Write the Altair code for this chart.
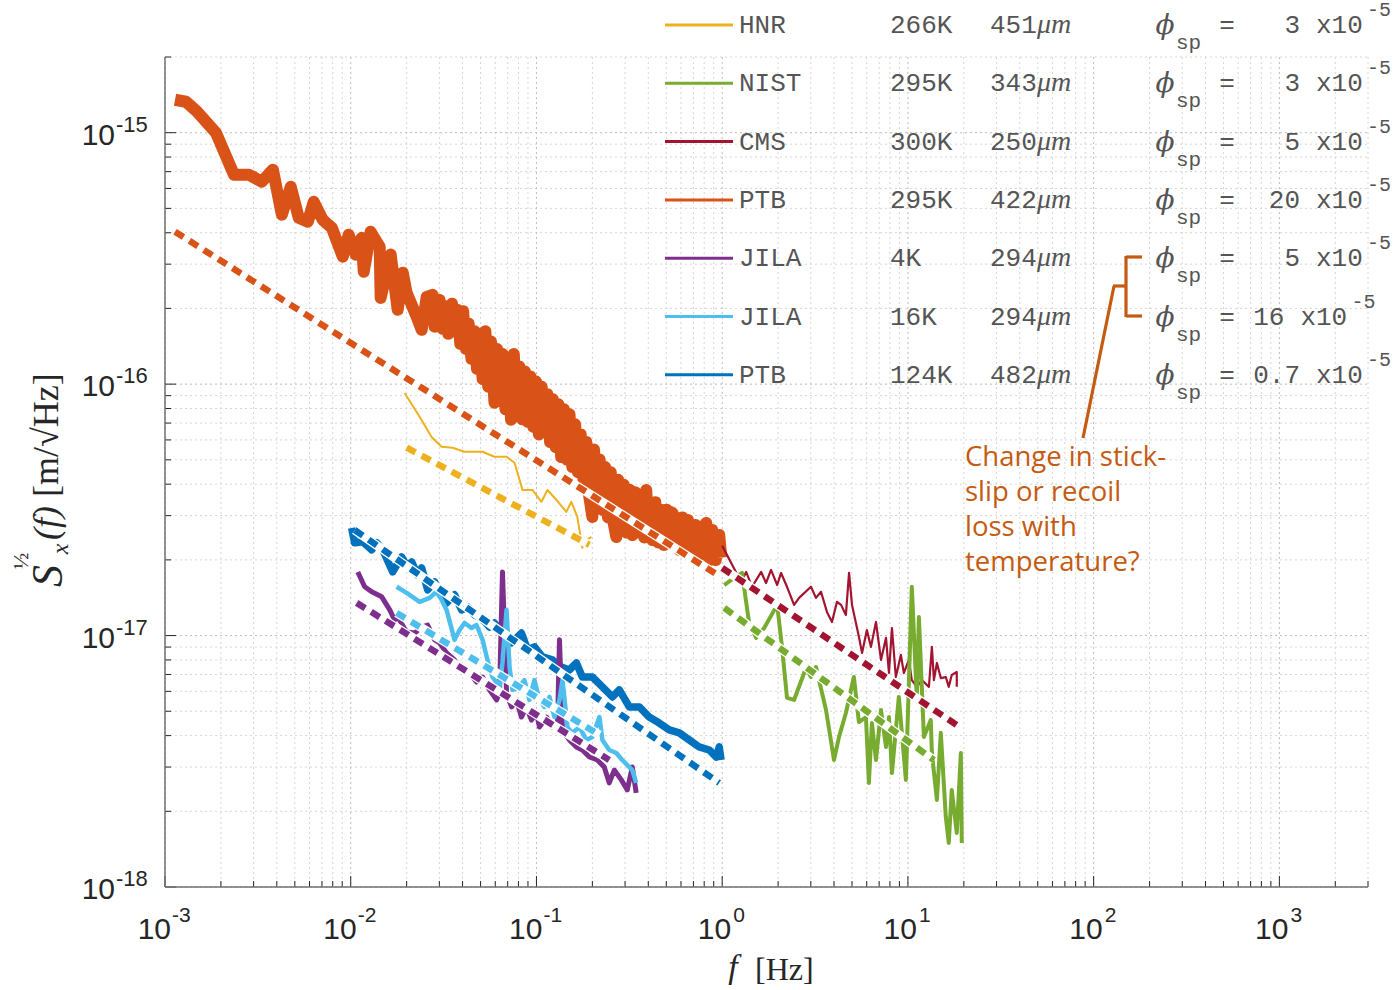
import altair as alt
import pandas as pd

# ---------------- data: (log10 f [Hz], log10 S [m/sqrt(Hz)]) ----------------
PTB_295K = [(-2.946,-14.869),(-2.887,-14.877),(-2.828,-14.916),(-2.726,-15.000),(-2.629,-15.167),(-2.548,-15.167),
            (-2.479,-15.195),(-2.419,-15.147),(-2.371,-15.326),(-2.323,-15.215),(-2.280,-15.338),(-2.231,-15.354),
            (-2.199,-15.275),(-2.151,-15.346),(-2.102,-15.378),(-2.043,-15.493),(-2.011,-15.406),(-1.973,-15.485),
            (-1.941,-15.418),(-1.930,-15.553),(-1.893,-15.394),(-1.844,-15.454),(-1.839,-15.657),(-1.785,-15.485),
            (-1.747,-15.704),(-1.720,-15.557),(-1.699,-15.637),(-1.645,-15.732),(-1.618,-15.784),(-1.591,-15.653),
            (-1.559,-15.645),(-1.548,-15.772),
            (-1.522,-15.665),(-1.505,-15.780),(-1.490,-15.690),(-1.475,-15.800),(-1.455,-15.680),(-1.440,-15.760),
            (-1.425,-15.705),(-1.410,-15.840),(-1.395,-15.710),(-1.380,-15.860),(-1.365,-15.760),(-1.350,-15.900),
            (-1.335,-15.790),(-1.320,-15.940),(-1.305,-15.800),(-1.290,-15.980),(-1.275,-15.790),(-1.260,-16.010),
            (-1.245,-15.830),(-1.226,-16.074),(-1.212,-15.860),(-1.197,-16.060),(-1.182,-15.880),(-1.167,-16.100),
            (-1.152,-15.900),(-1.137,-16.142),(-1.122,-15.880),(-1.107,-16.110),(-1.092,-15.930),(-1.077,-16.140),
            (-1.062,-15.950),(-1.047,-16.150),(-1.032,-15.970),(-1.017,-16.170),(-1.002,-15.990),(-0.987,-16.200),
            (-0.972,-16.010),(-0.957,-16.190),(-0.942,-16.040),(-0.927,-16.230),(-0.912,-16.060),(-0.897,-16.250),
            (-0.882,-16.080),(-0.867,-16.290),(-0.852,-16.100),(-0.837,-16.300),(-0.822,-16.120),(-0.807,-16.330),
            (-0.792,-16.160),(-0.777,-16.350),(-0.762,-16.200),(-0.747,-16.380),(-0.732,-16.230),(-0.717,-16.440),
            (-0.699,-16.528),(-0.690,-16.260),(-0.675,-16.480),(-0.660,-16.300),(-0.645,-16.500),(-0.630,-16.330),
            (-0.615,-16.530),(-0.600,-16.350),(-0.585,-16.550),(-0.570,-16.608),(-0.560,-16.380),(-0.545,-16.570),
            (-0.530,-16.400),(-0.515,-16.590),(-0.500,-16.420),(-0.485,-16.600),(-0.470,-16.430),(-0.455,-16.590),
            (-0.440,-16.440),(-0.420,-16.610),(-0.409,-16.421),(-0.395,-16.600),(-0.376,-16.620),(-0.360,-16.470),
            (-0.345,-16.630),(-0.330,-16.500),(-0.315,-16.640),(-0.300,-16.500),(-0.285,-16.630),(-0.270,-16.510),
            (-0.247,-16.540),(-0.230,-16.660),(-0.215,-16.530),(-0.200,-16.660),(-0.185,-16.540),(-0.161,-16.660),
            (-0.145,-16.560),(-0.124,-16.680),(-0.105,-16.570),(-0.086,-16.552),(-0.070,-16.700),(-0.054,-16.580),
            (-0.035,-16.700),(-0.016,-16.600),(-0.005,-16.690)]

HNR_266K = [(-1.710,-16.035),(-1.629,-16.130),(-1.565,-16.210),(-1.511,-16.249),(-1.452,-16.253),(-1.387,-16.269),
            (-1.290,-16.269),(-1.226,-16.289),(-1.161,-16.289),(-1.118,-16.313),(-1.075,-16.421),(-1.022,-16.421),
            (-0.973,-16.468),(-0.941,-16.421),(-0.893,-16.460),(-0.839,-16.508),(-0.812,-16.468),(-0.780,-16.528),
            (-0.753,-16.651),(-0.731,-16.619),(-0.704,-16.608)]

CMS_300K = [(0.000,-16.643),(0.102,-16.787),(0.129,-16.747),(0.161,-16.806),(0.210,-16.747),(0.236,-16.791),
            (0.263,-16.739),(0.296,-16.799),(0.317,-16.751),(0.349,-16.806),(0.387,-16.878),(0.414,-16.850),
            (0.478,-16.806),(0.505,-16.850),(0.532,-16.826),(0.564,-16.906),(0.591,-16.946),(0.618,-16.866),
            (0.640,-16.878),(0.666,-16.918),(0.683,-16.751),(0.699,-16.878),(0.736,-17.005),(0.753,-17.069),
            (0.779,-16.978),(0.801,-17.045),(0.828,-16.946),(0.855,-17.097),(0.882,-17.009),(0.898,-17.149),
            (0.914,-16.970),(0.935,-17.165),(0.962,-17.077),(0.978,-17.149),(1.005,-17.097),(1.021,-17.177),
            (1.048,-17.204),(1.075,-17.177),(1.113,-17.204),(1.129,-17.045),(1.140,-17.177),(1.156,-17.109),
            (1.177,-17.169),(1.204,-17.165),(1.220,-17.204),(1.236,-17.157),(1.263,-17.145),(1.263,-17.204)]

NIST_295K = [(0.011,-16.799),(0.064,-16.771),(0.107,-16.751),(0.145,-16.950),(0.183,-17.009),(0.226,-16.970),
             (0.296,-16.878),(0.322,-17.045),(0.349,-17.248),(0.387,-17.256),(0.451,-17.129),(0.478,-17.165),
             (0.505,-17.125),(0.559,-17.296),(0.602,-17.495),(0.629,-17.403),(0.666,-17.308),(0.709,-17.165),
             (0.736,-17.344),(0.774,-17.324),(0.790,-17.586),(0.806,-17.348),(0.828,-17.495),(0.855,-17.296),
             (0.882,-17.443),(0.898,-17.324),(0.914,-17.547),(0.951,-17.244),(0.989,-17.574),(1.021,-16.806),
             (1.048,-17.256),(1.059,-16.926),(1.086,-17.403),(1.123,-17.336),(1.129,-17.467),(1.156,-17.654),
             (1.177,-17.387),(1.204,-17.722),(1.220,-17.825),(1.236,-17.614),(1.263,-17.785),(1.285,-17.467),
             (1.290,-17.825)]

PTB_124K = [(-1.995,-16.572),(-1.979,-16.631),(-1.936,-16.627),(-1.887,-16.659),(-1.860,-16.631),(-1.828,-16.659),
            (-1.774,-16.747),(-1.726,-16.687),(-1.694,-16.727),(-1.672,-16.707),(-1.640,-16.759),(-1.618,-16.731),
            (-1.586,-16.818),(-1.548,-16.787),(-1.522,-16.830),(-1.484,-16.870),(-1.441,-16.838),(-1.403,-16.898),
            (-1.371,-16.886),(-1.333,-16.918),(-1.296,-16.930),(-1.253,-16.966),(-1.226,-16.950),(-1.183,-16.990),
            (-1.134,-17.029),(-1.081,-16.990),(-1.048,-17.057),(-1.011,-17.045),(-0.968,-17.085),(-0.914,-17.097),
            (-0.866,-17.125),(-0.823,-17.137),(-0.785,-17.109),(-0.753,-17.165),(-0.699,-17.165),(-0.645,-17.204),
            (-0.591,-17.244),(-0.554,-17.216),(-0.500,-17.284),(-0.446,-17.284),(-0.393,-17.324),(-0.339,-17.348),
            (-0.285,-17.375),(-0.231,-17.387),(-0.178,-17.415),(-0.124,-17.443),(-0.070,-17.455),(-0.032,-17.483),
            (-0.016,-17.443),(-0.006,-17.495)]

JILA_4K = [(-1.962,-16.747),(-1.925,-16.806),(-1.887,-16.826),(-1.833,-16.846),(-1.790,-16.898),(-1.764,-16.938),
           (-1.747,-16.926),(-1.699,-16.986),(-1.656,-16.990),(-1.618,-16.966),(-1.586,-16.958),(-1.548,-17.017),
           (-1.522,-17.029),(-1.484,-17.069),(-1.441,-17.097),(-1.398,-17.137),(-1.360,-17.149),(-1.323,-17.185),
           (-1.290,-17.165),(-1.253,-17.216),(-1.215,-17.256),(-1.199,-17.228),(-1.183,-16.747),(-1.161,-17.228),
           (-1.134,-17.284),(-1.108,-17.256),(-1.081,-17.324),(-1.054,-17.284),(-1.027,-17.336),(-1.000,-17.308),
           (-0.984,-17.364),(-0.946,-17.324),(-0.914,-17.364),(-0.887,-17.364),(-0.876,-17.017),(-0.860,-17.375),
           (-0.823,-17.415),(-0.785,-17.443),(-0.753,-17.455),(-0.715,-17.483),(-0.672,-17.495),(-0.635,-17.523),
           (-0.608,-17.586),(-0.581,-17.535),(-0.543,-17.574),(-0.511,-17.614),(-0.484,-17.523),(-0.463,-17.626)]

JILA_16K = [(-1.753,-16.806),(-1.699,-16.830),(-1.629,-16.866),(-1.575,-16.850),(-1.538,-16.826),(-1.511,-16.858),
            (-1.484,-16.898),(-1.441,-17.017),(-1.414,-16.978),(-1.387,-16.950),(-1.350,-16.970),(-1.323,-16.958),
            (-1.290,-17.017),(-1.264,-17.097),(-1.237,-17.165),(-1.199,-17.204),(-1.183,-17.109),(-1.161,-16.898),
            (-1.145,-17.125),(-1.129,-17.216),(-1.091,-17.204),(-1.065,-17.177),(-1.038,-17.256),(-1.011,-17.177),
            (-0.984,-17.256),(-0.957,-17.284),(-0.930,-17.244),(-0.903,-17.324),(-0.876,-17.256),(-0.860,-17.177),
            (-0.833,-17.364),(-0.807,-17.387),(-0.769,-17.364),(-0.731,-17.415),(-0.699,-17.403),(-0.661,-17.324),
            (-0.645,-17.415),(-0.608,-17.455),(-0.570,-17.467),(-0.538,-17.495),(-0.500,-17.523),(-0.484,-17.535),
            (-0.463,-17.586)]

# straight-line (power-law) fits: two end points each
FIT_PTB_295K = [(-2.946, -15.394), (-0.016, -16.763)]
FIT_HNR_266K = [(-1.699, -16.253), (-0.715, -16.639)]
FIT_CMS_300K = [(0.000, -16.731), (1.263, -17.356)]
FIT_NIST_295K = [(0.011, -16.890), (1.140, -17.495)]
FIT_PTB_124K = [(-1.979, -16.580), (-0.016, -17.586)]
FIT_JILA_4K = [(-1.968, -16.870), (-0.608, -17.495)]
FIT_JILA_16K = [(-1.753, -16.910), (-0.661, -17.395)]

# legend table
LEGEND_NAMES = ["HNR", "NIST", "CMS", "PTB", "JILA", "JILA", "PTB"]
LEGEND_TEMPS = ["266K", "295K", "300K", "295K", "4K", "16K", "124K"]
LEGEND_SIZES = ["451", "343", "250", "422", "294", "294", "482"]
LEGEND_PHI = ["3", "3", "5", "20", "5", "16", "0.7"]
LEGEND_PHI_FIELD = [3, 3, 3, 3, 3, 2, 3]   # width of the printed number field (characters)

COLORS = {"PTB_295K": "#D95319", "HNR_266K": "#EDB120", "CMS_300K": "#A2142F", "NIST_295K": "#77AC30",
          "PTB_124K": "#0072BD", "JILA_4K": "#7E2F8E", "JILA_16K": "#4DBEEE"}
LEGEND_COLORS = [COLORS["HNR_266K"], COLORS["NIST_295K"], COLORS["CMS_300K"], COLORS["PTB_295K"],
                 COLORS["JILA_4K"], COLORS["JILA_16K"], COLORS["PTB_124K"]]

X_EXPONENTS = [-3, -2, -1, 0, 1, 2, 3]
Y_EXPONENTS = [-18, -17, -16, -15]
MINOR_MULTS = [1, 2, 3, 4, 5, 6, 7, 8, 9]
X_DOMAIN = [1e-3, 3000]
Y_DOMAIN = [1e-18, 2e-15]

ANNOTATION = ["Change in stick-", "slip or recoil", "loss with", "temperature?"]

# ---------------- layout ----------------
W, H = 1203, 830
XS = alt.Scale(type="log", domain=X_DOMAIN, nice=False)
YS = alt.Scale(type="log", domain=Y_DOMAIN, nice=False)
AX_GREY = "#262626"
NOTE = "#C55A11"


def to_df(pts):
    return pd.DataFrame({"f": [10 ** a for a, _ in pts], "S": [10 ** b for _, b in pts],
                         "i": list(range(len(pts)))})


def xenc(field="f"):
    return alt.X(f"{field}:Q", scale=XS, axis=None)


def yenc(field="S"):
    return alt.Y(f"{field}:Q", scale=YS, axis=None)


layers = []

# grid
xv_minor, xv_major = [], []
for e in X_EXPONENTS:
    for m in MINOR_MULTS:
        v = m * 10.0 ** e
        if v <= X_DOMAIN[1] * 1.0001:
            (xv_major if m == 1 else xv_minor).append(v)
yv_minor, yv_major = [], []
for e in Y_EXPONENTS:
    for m in MINOR_MULTS:
        v = m * 10.0 ** e
        if v <= Y_DOMAIN[1] * 1.0001:
            (yv_major if m == 1 else yv_minor).append(v)

gx_min = pd.DataFrame({"v": xv_minor})
gx_maj = pd.DataFrame({"v": xv_major})
gy_min = pd.DataFrame({"v": yv_minor})
gy_maj = pd.DataFrame({"v": yv_major})

layers.append(alt.Chart(gx_min).mark_rule(color="#d6d6d6", strokeWidth=1, strokeDash=[2, 3])
              .encode(x=xenc("v"), y=alt.value(0), y2=alt.value(H)))
layers.append(alt.Chart(gy_min).mark_rule(color="#d6d6d6", strokeWidth=1, strokeDash=[2, 3])
              .encode(y=yenc("v"), x=alt.value(0), x2=alt.value(W)))
layers.append(alt.Chart(gx_maj).mark_rule(color="#bdbdbd", strokeWidth=1, strokeDash=[2, 3])
              .encode(x=xenc("v"), y=alt.value(0), y2=alt.value(H)))
layers.append(alt.Chart(gy_maj).mark_rule(color="#bdbdbd", strokeWidth=1, strokeDash=[2, 3])
              .encode(y=yenc("v"), x=alt.value(0), x2=alt.value(W)))

# data lines
SERIES = [("PTB_295K", PTB_295K, 12), ("HNR_266K", HNR_266K, 2), ("CMS_300K", CMS_300K, 2.2),
          ("NIST_295K", NIST_295K, 4), ("PTB_124K", PTB_124K, 7.5), ("JILA_4K", JILA_4K, 5),
          ("JILA_16K", JILA_16K, 4.5)]
for key, pts, w in SERIES:
    layers.append(alt.Chart(to_df(pts)).mark_line(color=COLORS[key], strokeWidth=w, strokeJoin="round",
                                                  clip=True)
                  .encode(x=xenc(), y=yenc(), order=alt.Order("i:Q")))

# fits (white underlay + coloured dashes)
FITS = [("PTB_295K", FIT_PTB_295K), ("HNR_266K", FIT_HNR_266K), ("CMS_300K", FIT_CMS_300K),
        ("NIST_295K", FIT_NIST_295K), ("PTB_124K", FIT_PTB_124K), ("JILA_4K", FIT_JILA_4K),
        ("JILA_16K", FIT_JILA_16K)]
for key, pts in FITS:
    d = to_df(pts)
    layers.append(alt.Chart(d).mark_line(color="white", strokeWidth=9, clip=True)
                  .encode(x=xenc(), y=yenc(), order=alt.Order("i:Q")))
    layers.append(alt.Chart(d).mark_line(color=COLORS[key], strokeWidth=6.5, strokeDash=[10, 7], clip=True)
                  .encode(x=xenc(), y=yenc(), order=alt.Order("i:Q")))

# ticks (inward) and axis lines
layers.append(alt.Chart(gx_min).mark_rule(color=AX_GREY, strokeWidth=1)
              .encode(x=xenc("v"), y=alt.value(H), y2=alt.value(H - 6)))
layers.append(alt.Chart(gx_maj).mark_rule(color=AX_GREY, strokeWidth=1)
              .encode(x=xenc("v"), y=alt.value(H), y2=alt.value(H - 11)))
layers.append(alt.Chart(gy_min).mark_rule(color=AX_GREY, strokeWidth=1)
              .encode(y=yenc("v"), x=alt.value(0), x2=alt.value(6)))
layers.append(alt.Chart(gy_maj).mark_rule(color=AX_GREY, strokeWidth=1)
              .encode(y=yenc("v"), x=alt.value(0), x2=alt.value(11)))
layers.append(alt.Chart().mark_rule(color="#707070", strokeWidth=1.5)
              .encode(x=alt.value(0), y=alt.value(0), y2=alt.value(H)))
layers.append(alt.Chart().mark_rule(color="#707070", strokeWidth=1.5)
              .encode(x=alt.value(0), x2=alt.value(W), y=alt.value(H)))

# tick labels
xl = pd.DataFrame({"v": [10.0 ** e for e in X_EXPONENTS], "b": ["10"] * len(X_EXPONENTS),
                   "e": [str(e) for e in X_EXPONENTS], "neg": [e < 0 for e in X_EXPONENTS]})
for neg, dx_b, dx_e in [(True, 6, 7), (False, 9, 11)]:
    sub = xl[xl["neg"] == neg]
    layers.append(alt.Chart(sub).mark_text(font="Liberation Sans", fontSize=30, color=AX_GREY, align="right",
                                           baseline="middle", dx=dx_b)
                  .encode(x=xenc("v"), y=alt.value(H + 43), text="b:N"))
    layers.append(alt.Chart(sub).mark_text(font="Liberation Sans", fontSize=21, color=AX_GREY, align="left",
                                           baseline="middle", dx=dx_e)
                  .encode(x=xenc("v"), y=alt.value(H + 29), text="e:N"))
yl = pd.DataFrame({"v": [10.0 ** e for e in Y_EXPONENTS], "b": ["10"] * len(Y_EXPONENTS),
                   "e": [str(e) for e in Y_EXPONENTS]})
layers.append(alt.Chart(yl).mark_text(font="Liberation Sans", fontSize=30, color=AX_GREY, align="right",
                                      baseline="middle", dy=3)
              .encode(y=yenc("v"), x=alt.value(-50), text="b:N"))
layers.append(alt.Chart(yl).mark_text(font="Liberation Sans", fontSize=22, color=AX_GREY, align="left",
                                      baseline="middle", dy=-8)
              .encode(y=yenc("v"), x=alt.value(-49), text="e:N"))

# axis titles
SERIF = "Liberation Serif"
ox, oy = 165, 57


def txt(s, x, y, **kw):
    return alt.Chart().mark_text(text=s, baseline="middle", **kw).encode(x=alt.value(x), y=alt.value(y))


layers.append(txt("f", 733 - ox, 968 - oy, font=SERIF, fontSize=34, fontStyle="italic", color=AX_GREY,
                  align="center"))
layers.append(txt("[Hz]", 755 - ox, 970 - oy, font=SERIF, fontSize=32, color=AX_GREY, align="left"))

layers.append(txt("S", 49 - ox, 576 - oy, font=SERIF, fontSize=44, fontStyle="italic", color=AX_GREY,
                  align="center", angle=270))
layers.append(txt("½", 21 - ox, 561 - oy, font=SERIF, fontSize=22, color=AX_GREY, align="center", angle=270))
layers.append(txt("x", 61 - ox, 549 - oy, font=SERIF, fontSize=24, fontStyle="italic", color=AX_GREY,
                  align="center", angle=270))
layers.append(txt("(f)", 47 - ox, 540 - oy, font=SERIF, fontSize=36, fontStyle="italic", color=AX_GREY,
                  align="left", angle=270))
layers.append(txt("[m/√Hz]", 47 - ox, 497 - oy, font=SERIF, fontSize=36, color=AX_GREY,
                  align="left", angle=270))

# legend
MONO = "Liberation Mono"
LG = "#555555"
CW = 15.6
for i in range(len(LEGEND_NAMES)):
    yy = 25 - oy + 58.3 * i
    shift = (LEGEND_PHI_FIELD[i] - 3) * CW
    layers.append(alt.Chart().mark_rule(color=LEGEND_COLORS[i], strokeWidth=3)
                  .encode(x=alt.value(665 - ox), x2=alt.value(733 - ox), y=alt.value(yy)))
    layers.append(txt(LEGEND_NAMES[i], 739 - ox, yy, font=MONO, fontSize=26, color=LG, align="left"))
    layers.append(txt(LEGEND_TEMPS[i], 890 - ox, yy, font=MONO, fontSize=26, color=LG, align="left"))
    layers.append(txt(LEGEND_SIZES[i], 990 - ox, yy, font=MONO, fontSize=26, color=LG, align="left"))
    layers.append(txt("μm", 1037 - ox, yy, font=SERIF, fontSize=28, fontStyle="italic", color=LG, align="left"))
    layers.append(txt("ϕ", 1165 - ox, yy + 1, font="DejaVu Serif", fontSize=28, fontStyle="italic", color=LG,
                      align="center"))
    layers.append(txt("sp", 1176 - ox, yy + 18, font=MONO, fontSize=21, color=LG, align="left"))
    layers.append(txt("=", 1227 - ox, yy, font=MONO, fontSize=26, color=LG, align="center"))
    layers.append(txt(LEGEND_PHI[i], 1300 - ox + shift, yy, font=MONO, fontSize=26, color=LG, align="right"))
    layers.append(txt("x10", 1316 - ox + shift, yy, font=MONO, fontSize=26, color=LG, align="left"))
    layers.append(txt("-5", 1367 - ox + shift, yy - 15, font=MONO, fontSize=20, color=LG, align="left"))

# annotation bracket and pointer
def seg(x1, y1, x2, y2):
    return (alt.Chart().mark_rule(color=NOTE, strokeWidth=3.2, strokeCap="butt")
            .encode(x=alt.value(x1 - ox), y=alt.value(y1 - oy), x2=alt.value(x2 - ox), y2=alt.value(y2 - oy)))


layers.append(seg(1126, 256, 1126, 317))
layers.append(seg(1126, 257, 1142, 257))
layers.append(seg(1126, 316, 1142, 316))
layers.append(seg(1113, 286, 1126, 286))
layers.append(seg(1114, 286, 1083, 438))
for k, line in enumerate(ANNOTATION):
    layers.append(txt(line, 965 - ox, 458 - oy + 35 * k, font="Open Sans", fontSize=27.5, color=NOTE,
                      align="left"))

chart = (alt.layer(*layers)
         .properties(width=W, height=H, autosize="none",
                     padding={"left": ox, "top": oy, "right": 1400 - ox - W, "bottom": 990 - oy - H},
                     background="white")
         .configure_view(stroke=None))

chart.save("out.html", embed_options={"renderer": "svg", "actions": False})
